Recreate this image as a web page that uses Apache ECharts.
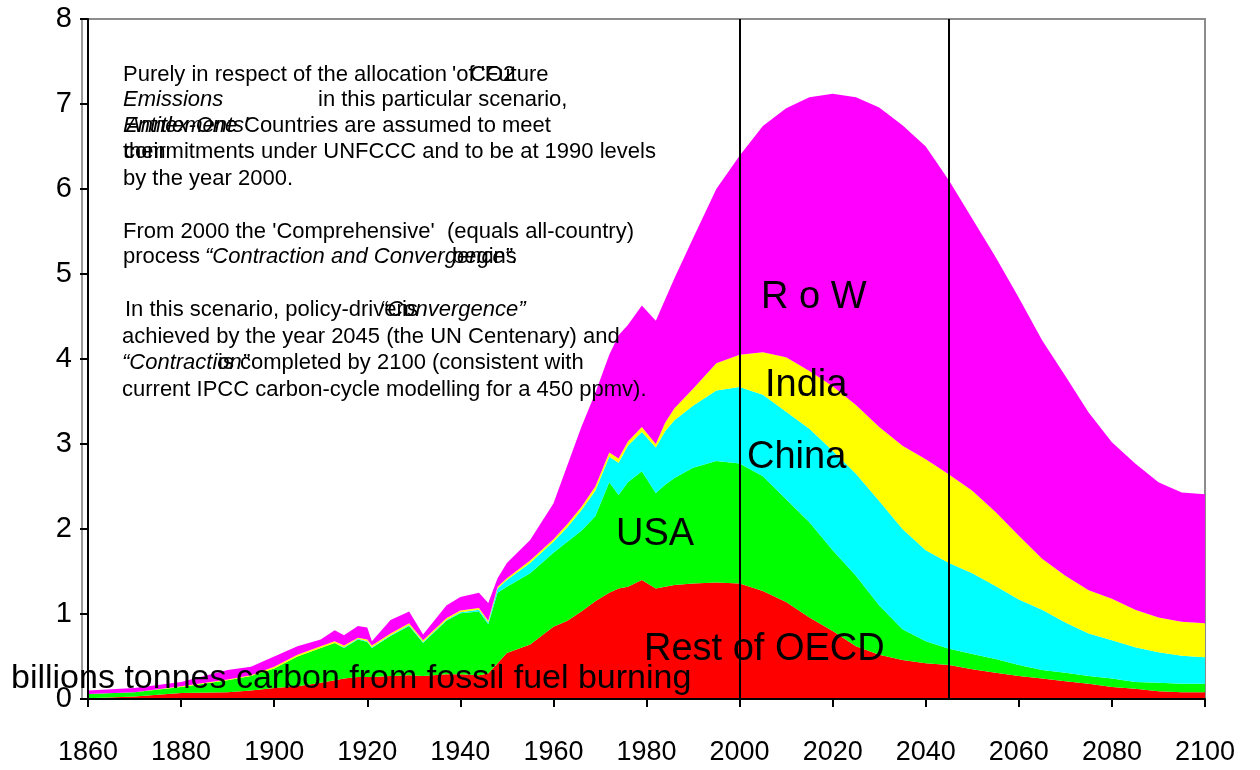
<!DOCTYPE html>
<html>
<head>
<meta charset="utf-8">
<script src="https://cdn.jsdelivr.net/npm/echarts/dist/echarts.min.js"></script>
<style>
html,body{margin:0;padding:0;background:#fff;}
#chart{width:1260px;height:770px;}
</style>
</head>
<body>
<div id="chart"></div>
<script>
// ---- data (billions tonnes carbon) ----
const years = [1860,1870,1880,1890,1895,1900,1905,1910,1913,1915,1918,1920,1921,1925,1929,1932,1937,1940,1944,1946,1948,1950,1955,1960,1963,1966,1969,1972,1974,1976,1979,1982,1984,1986,1990,1995,2000,2005,2010,2015,2020,2025,2030,2035,2040,2045,2050,2055,2060,2065,2070,2075,2080,2085,2090,2095,2100];
const restOECD = [.01,.03,.07,.08,.10,.13,.15,.19,.22,.24,.26,.26,.26,.27,.28,.27,.29,.29,.28,.30,.42,.54,.64,.85,.92,1.03,1.15,1.25,1.30,1.32,1.40,1.30,1.32,1.34,1.36,1.37,1.36,1.27,1.14,.96,.80,.62,.52,.46,.42,.40,.35,.31,.27,.24,.21,.18,.14,.12,.09,.08,.08];
const usa      = [.05,.05,.07,.14,.17,.23,.35,.41,.44,.36,.44,.41,.34,.47,.58,.39,.63,.72,.75,.58,.83,.78,.84,.87,.93,.95,1.00,1.30,1.10,1.23,1.28,1.12,1.20,1.26,1.36,1.43,1.41,1.35,1.21,1.12,.95,.83,.58,.36,.26,.19,.18,.16,.13,.10,.10,.09,.10,.08,.10,.10,.10];
const china    = [0,0,0,0,0,0,0,0,0,.01,.01,.01,.01,.01,.01,.01,.01,.01,.02,.02,.05,.08,.12,.13,.17,.24,.30,.30,.38,.43,.46,.54,.63,.68,.73,.83,.90,.96,1.03,1.10,1.17,1.20,1.23,1.18,1.07,1.01,.95,.86,.77,.71,.59,.50,.45,.41,.36,.33,.31];
const india    = [0,0,.01,.01,.01,.02,.02,.02,.02,.02,.01,.02,.02,.02,.02,.02,.02,.02,.02,.02,.02,.02,.03,.03,.04,.04,.05,.05,.05,.05,.06,.04,.10,.14,.20,.32,.38,.50,.64,.68,.76,.81,.87,.98,1.07,1.04,.97,.87,.75,.60,.55,.51,.49,.44,.41,.40,.40];
const row      = [.04,.05,.05,.11,.10,.12,.10,.08,.13,.12,.14,.14,.05,.16,.14,.07,.15,.16,.18,.21,.10,.18,.24,.42,.69,.94,1.10,1.15,1.45,1.37,1.43,1.45,1.45,1.53,1.77,2.05,2.34,2.66,2.93,3.22,3.44,3.62,3.76,3.77,3.68,3.46,3.20,3.00,2.80,2.57,2.35,2.09,1.84,1.72,1.59,1.52,1.52];
const seriesNames = ['Rest of OECD','USA','China','India','R o W'];
const seriesColors = ['#ff0000','#00ff00','#00ffff','#ffff00','#ff00ff'];
const xTicks = {min:1860, max:2100, interval:20};
const yTicks = {min:0, max:8, interval:1};
const markYears = [2000, 2045];

const FONT = '"Liberation Sans", Arial, sans-serif';
const chart = echarts.init(document.getElementById('chart'), null, {renderer:'canvas'});

const valueSets = [restOECD, usa, china, india, row];
// value first, year second, so the stack is applied to the value dimension
const series = valueSets.map((vals, i) => ({
  name: seriesNames[i],
  type: 'line',
  stack: 'total',
  data: years.map((y, k) => [vals[k], y]),
  encode: {x: 1, y: 0},
  showSymbol: false,
  symbol: 'none',
  lineStyle: {width: 0},
  areaStyle: {color: seriesColors[i], opacity: 1},
  itemStyle: {color: seriesColors[i]},
  z: 2
}));
series.push({
  type: 'line', data: [], z: 5,
  markLine: {
    silent: true, symbol: 'none', label: {show: false},
    lineStyle: {color: '#000', width: 2, type: 'solid'},
    data: markYears.map(y => ({xAxis: y}))
  }
});

// annotation block (free text)
const note = [
  {t: "Purely in respect of the allocation", x: 123, y: 75},
  {t: "'of 'Future", x: 452, y: 75},
  {t: "CO2", x: 470, y: 75},
  {t: "Emissions", x: 123, y: 100, it: true},
  {t: "in this particular scenario,", x: 318, y: 100},
  {t: "Entitlements'", x: 123, y: 126, it: true},
  {t: "Annex-One", x: 126, y: 126, it: true},
  {t: "Countries are assumed to meet", x: 244, y: 126},
  {t: "their", x: 123, y: 152},
  {t: "commitments under UNFCCC and to be at 1990 levels", x: 124, y: 152},
  {t: "by the year 2000.", x: 123, y: 179},
  {t: "From 2000 the 'Comprehensive'  (equals all-country)", x: 123, y: 232},
  {t: "process", x: 123, y: 257},
  {t: "\u201cContraction and Convergence\u201d.", x: 205, y: 257, it: true},
  {t: "begins", x: 452, y: 257},
  {t: "In this scenario, policy-driven", x: 125, y: 310},
  {t: "\u201cConvergence\u201d", x: 380, y: 310, it: true},
  {t: "is", x: 402, y: 310},
  {t: "achieved by the year 2045 (the UN Centenary) and", x: 122, y: 337},
  {t: "\u201cContraction\u201d", x: 122, y: 363, it: true},
  {t: "is", x: 218, y: 363},
  {t: "completed by 2100 (consistent with", x: 240, y: 363},
  {t: "current IPCC carbon-cycle modelling for a 450 ppmv).", x: 122, y: 390}
];
const bigLabels = [
  {t: 'R o W', x: 761, y: 298},
  {t: 'India', x: 765, y: 386},
  {t: 'China', x: 747, y: 458},
  {t: 'USA', x: 616, y: 535},
  {t: 'Rest of OECD', x: 644, y: 650},
  {t: 'billions tonnes carbon from fossil fuel burning', x: 11, y: 679, s: 34}
];
const graphics = [];
note.forEach(n => graphics.push({
  type: 'text', z: 20,
  style: {
    text: n.t, x: n.x, y: n.y,
    font: (n.it ? 'italic ' : '') + '22px ' + FONT,
    fill: '#000', textVerticalAlign: 'middle', verticalAlign: 'middle'
  }
}));
bigLabels.forEach(n => graphics.push({
  type: 'text', z: 20,
  style: {
    text: n.t, x: n.x, y: n.y,
    font: (n.s || 38) + 'px ' + FONT,
    fill: '#000', textVerticalAlign: 'middle', verticalAlign: 'middle'
  }
}));

chart.setOption({
  animation: false,
  backgroundColor: '#fff',
  grid: {left: 88, right: 55, top: 19, bottom: 71, show: true, borderColor: '#8c8c8c', borderWidth: 2, backgroundColor: 'transparent'},
  xAxis: {
    type: 'value', min: xTicks.min, max: xTicks.max, interval: xTicks.interval,
    axisLine: {show: true, lineStyle: {color: '#000', width: 2}},
    axisTick: {show: true, length: 8, lineStyle: {color: '#000', width: 2}},
    axisLabel: {fontSize: 27, color: '#000', fontFamily: FONT, margin: 40, formatter: v => String(v)},
    splitLine: {show: false}, z: 10
  },
  yAxis: [{
    type: 'value', min: yTicks.min, max: yTicks.max, interval: yTicks.interval,
    axisLine: {show: true, lineStyle: {color: '#000', width: 2}},
    axisTick: {show: true, length: 8, lineStyle: {color: '#000', width: 2}},
    axisLabel: {fontSize: 29, color: '#000', fontFamily: FONT, margin: 16},
    splitLine: {show: false}, z: 10
  }, {
    type: 'value', min: yTicks.min, max: yTicks.max, position: 'left', offset: 6,
    axisLine: {show: true, lineStyle: {color: '#9a9a9a', width: 2}},
    axisTick: {show: false}, axisLabel: {show: false}, splitLine: {show: false}
  }],
  series: series,
  graphic: graphics
});
</script>
</body>
</html>
